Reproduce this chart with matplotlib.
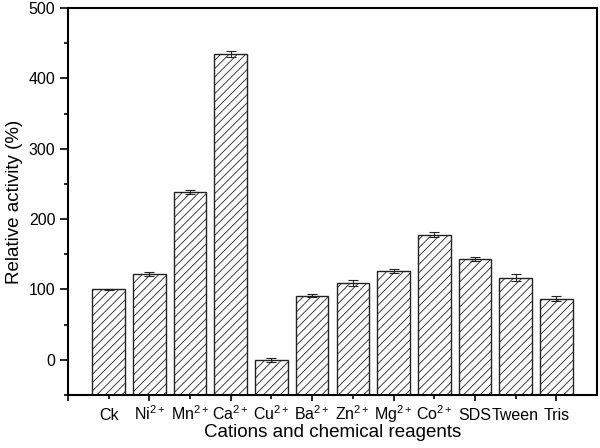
import matplotlib
matplotlib.use("Agg")
import matplotlib.pyplot as plt
import numpy as np
from matplotlib.ticker import MultipleLocator

plt.rcParams['font.family'] = ['Liberation Sans', 'DejaVu Sans']
plt.rcParams['mathtext.fontset'] = 'custom'
plt.rcParams['mathtext.rm'] = 'Liberation Sans'
plt.rcParams['mathtext.it'] = 'Liberation Sans'
plt.rcParams['mathtext.default'] = 'regular'
plt.rcParams['hatch.linewidth'] = 0.6

categories = ['Ck', 'Ni$^{2+}$', 'Mn$^{2+}$', 'Ca$^{2+}$', 'Cu$^{2+}$', 'Ba$^{2+}$',
              'Zn$^{2+}$', 'Mg$^{2+}$', 'Co$^{2+}$', 'SDS', 'Tween', 'Tris']
values = [100, 122, 239, 435, 0, 91, 109, 126, 178, 143, 117, 87]
errors = [1, 3, 3, 4, 3, 2, 4, 3, 4, 3, 4.5, 4]
baseline = -50

fig = plt.figure(figsize=(6, 4.48), dpi=100)
ax = fig.add_axes([0.1133, 0.1183, 0.8817, 0.8637])

x = np.arange(1, len(categories) + 1)
heights = [v - baseline for v in values]
ax.bar(x, heights, bottom=baseline, width=0.8, color='white', edgecolor='#222222',
       linewidth=1.0, hatch='////', zorder=2)
ax.errorbar(x, values, yerr=errors, fmt='none', ecolor='#222222', elinewidth=0.8,
            capsize=3.5, capthick=0.8, zorder=3)

ax.set_xlim(0, 13)
ax.set_ylim(-50, 500)
ax.yaxis.set_major_locator(MultipleLocator(100))
ax.yaxis.set_minor_locator(MultipleLocator(50))

ax.set_xticks(np.arange(0, 13))
ax.set_xticklabels([''] + categories)
ax.tick_params(axis='x', which='major', direction='out', length=4.3, width=1.2,
               pad=14, labelsize=11.5)
for i, t in enumerate(ax.xaxis.get_major_ticks()):
    t.tick1line.set_markersize(4.3 if i % 2 == 0 else 2.6)
for lab in ax.get_xticklabels():
    lab.set_va('baseline')

ax.tick_params(axis='y', which='major', direction='out', length=5.5, width=1.2,
               labelsize=11.5)
ax.tick_params(axis='y', which='minor', direction='out', length=3.2, width=1.2)

for s in ax.spines.values():
    s.set_linewidth(1.5)

ax.set_ylabel('Relative activity (%)', fontsize=13.5)
ax.set_xlabel('Cations and chemical reagents', fontsize=13.5, va='baseline')
ax.xaxis.set_label_coords(0.5, -0.1085)

fig.savefig('out.png', dpi=100)
